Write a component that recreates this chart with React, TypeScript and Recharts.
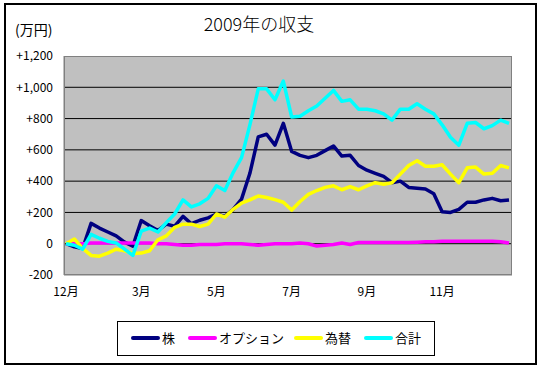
import { LineChart, Line, XAxis, YAxis, CartesianGrid } from "recharts";

// weekly values, 万円
const stock = [0, -20, -30, 130, 100, 75, 50, 10, -15, 148, 115, 85, 125, 112, 175, 128, 150, 165, 190, 175, 220, 285, 450, 683, 700, 630, 770, 590, 565, 550, 565, 595, 625, 560, 565, 500, 470, 450, 430, 390, 400, 360, 355, 350, 320, 205, 200, 220, 265, 265, 280, 290, 275, 280];
const option = [0, 0, 0, 5, 5, 5, 5, 5, 5, 5, 5, 0, 0, -5, -10, -10, -5, -5, -5, 0, 0, 0, -5, -10, -5, 0, 0, 0, 5, 0, -15, -10, -5, 5, -5, 8, 8, 8, 8, 8, 8, 8, 10, 12, 12, 15, 15, 15, 15, 15, 15, 15, 12, 5];
const fx = [0, 30, -30, -75, -80, -60, -35, -45, -62, -60, -45, 25, 50, 105, 125, 125, 110, 125, 190, 170, 220, 260, 280, 305, 295, 282, 265, 215, 270, 315, 340, 360, 370, 345, 365, 345, 370, 390, 380, 390, 445, 500, 530, 495, 495, 505, 445, 390, 485, 490, 445, 450, 500, 485];
const total = [0, -10, -35, 60, 35, 15, 5, -35, -75, 80, 100, 75, 135, 190, 280, 235, 255, 290, 370, 340, 455, 550, 760, 990, 990, 920, 1040, 810, 815, 850, 880, 930, 980, 910, 920, 860, 860, 850, 830, 790, 860, 860, 895, 860, 830, 760, 680, 630, 770, 775, 735, 755, 790, 770];

const monthTicks = [0, 9, 18, 27, 36, 45];
const monthLabels = ["12月", "3月", "5月", "7月", "9月", "11月"];
const yTicks = [-200, 0, 200, 400, 600, 800, 1000, 1200];
const gridValues = [0, 200, 400, 600, 800, 1000];

const series = [
  { key: "stock", name: "株", color: "#000080" },
  { key: "option", name: "オプション", color: "#ff00ff" },
  { key: "fx", name: "為替", color: "#ffff00" },
  { key: "total", name: "合計", color: "#00ffff" },
];

const data = stock.map((s, i) => ({
  week: i,
  stock: s,
  option: option[i],
  fx: fx[i],
  total: total[i],
}));

const font = "'Noto Sans CJK JP', sans-serif";

const formatY = (v: number) =>
  v > 0 ? "+" + v.toLocaleString("en-US") : v < 0 ? "-" + Math.abs(v) : "0";

const formatX = (v: number) => monthLabels[monthTicks.indexOf(v)] ?? "";

// legend item offsets inside the legend box
const legendLeft = [13, 70, 176, 246];

export default function App() {
  return (
    <div
      style={{
        position: "absolute",
        left: 0,
        top: 0,
        width: 541,
        height: 369,
        background: "#fff",
        fontFamily: font,
      }}
    >
      <div
        style={{
          position: "absolute",
          left: 4,
          top: 3,
          width: 533,
          height: 362,
          border: "2px solid #000",
          boxSizing: "border-box",
        }}
      />
      <div
        style={{
          position: "absolute",
          left: 159,
          top: 11,
          width: 200,
          textAlign: "center",
          fontSize: 18,
          fontWeight: 300,
          lineHeight: "24px",
        }}
      >
        2009年の収支
      </div>
      <div
        style={{
          position: "absolute",
          left: 15,
          top: 20,
          fontSize: 14,
          lineHeight: "19px",
        }}
      >
        (万円)
      </div>

      <LineChart
        width={541}
        height={369}
        data={data}
        margin={{ top: 56, right: 29, left: 0, bottom: 64 }}
      >
        <CartesianGrid
          fill="#c0c0c0"
          stroke="#000"
          vertical={false}
          horizontalValues={gridValues}
        />
        <XAxis
          dataKey="week"
          type="number"
          domain={[0, 53]}
          ticks={monthTicks}
          tickFormatter={formatX}
          padding={{ left: 2, right: 3 }}
          height={30}
          stroke="#808080"
          tickLine={false}
          tickSize={0}
          tickMargin={12}
          tick={{ fill: "#000", fontSize: 12, fontFamily: font }}
        />
        <YAxis
          domain={[-200, 1200]}
          ticks={yTicks}
          tickFormatter={formatY}
          width={64}
          stroke="#808080"
          tickLine={false}
          tickSize={0}
          tickMargin={11}
          tick={{ fill: "#000", fontSize: 12, fontFamily: font }}
        />
        {series.map((s) => (
          <Line
            key={s.key}
            type="linear"
            dataKey={s.key}
            name={s.name}
            stroke={s.color}
            strokeWidth={3.5}
            strokeLinejoin="round"
            dot={false}
            isAnimationActive={false}
          />
        ))}
      </LineChart>

      <div
        style={{
          position: "absolute",
          left: 64,
          top: 56,
          width: 448,
          height: 219,
          border: "1px solid #808080",
          boxSizing: "border-box",
          pointerEvents: "none",
        }}
      />

      <div
        style={{
          position: "absolute",
          left: 117,
          top: 321,
          width: 318,
          height: 35,
          border: "1px solid #000",
          boxSizing: "border-box",
          background: "#fff",
        }}
      >
        {series.map((s, i) => (
          <div
            key={s.key}
            style={{
              position: "absolute",
              left: legendLeft[i],
              top: 7,
              display: "flex",
              alignItems: "center",
              fontSize: 13,
              lineHeight: "18px",
            }}
          >
            <span
              style={{
                display: "inline-block",
                width: 29,
                height: 4,
                background: s.color,
                borderRadius: 2,
                marginRight: 2,
              }}
            />
            {s.name}
          </div>
        ))}
      </div>
    </div>
  );
}
